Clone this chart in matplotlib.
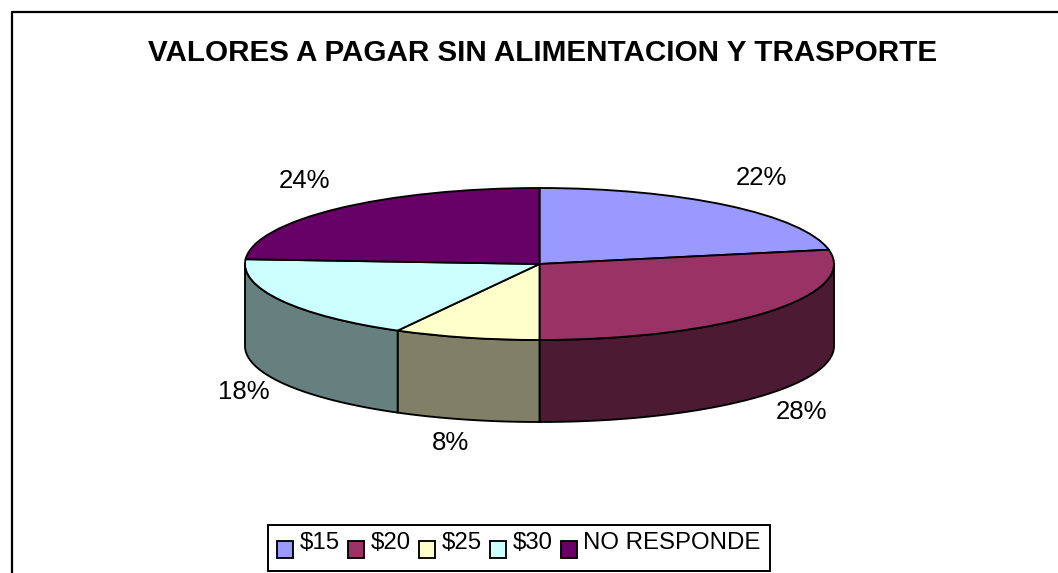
import numpy as np
import matplotlib
matplotlib.use("Agg")
import matplotlib.pyplot as plt
from matplotlib.lines import Line2D

categories = ["$15", "$20", "$25", "$30", "NO RESPONDE"]
values = [22, 28, 8, 18, 24]
top_colors = ["#9999FF", "#993366", "#FFFFCC", "#CCFFFF", "#660066"]
side_colors = ["#4D2680", "#4D1A33", "#808066", "#668080", "#330033"]
title = "VALORES A PAGAR SIN ALIMENTACION Y TRASPORTE"

W, H = 1058, 573
plt.rcParams["font.family"] = ["Liberation Sans", "DejaVu Sans"]
plt.rcParams["text.parse_math"] = False
fig = plt.figure(figsize=(W / 100, H / 100), dpi=100, facecolor="white")

cx, cy, rx, ry, depth = 539.5, 264.0, 294.5, 76.0, 82.0
lim_x, lim_top, lim_bot = 1.25, 1.25, 2.5
ax = fig.add_axes([
    (cx - lim_x * rx) / W,
    (H - cy - lim_bot * ry) / H,
    2 * lim_x * rx / W,
    (lim_top + lim_bot) * ry / H,
])
EDGE = 1.35
wedges, _ = ax.pie(values, colors=top_colors, startangle=90, counterclock=False,
                   wedgeprops=dict(edgecolor="black", linewidth=EDGE, joinstyle="round"))
for w in wedges:
    w.set_zorder(3)
ax.set_aspect("auto")
ax.set_xlim(-lim_x, lim_x)
ax.set_ylim(-lim_bot, lim_top)
ax.axis("off")

# Extruded side of the pie: the visible arc runs 90-270 deg clockwise from the top.
d = depth / ry
edges = np.cumsum([0] + values) / sum(values) * 360
for i in range(len(values)):
    a, b = max(edges[i], 90), min(edges[i + 1], 270)
    if b <= a:
        continue
    t = np.radians(np.linspace(a, b, 80))
    x, y = np.sin(t), np.cos(t)
    ax.fill(np.r_[x, x[::-1]], np.r_[y, y[::-1] - d], facecolor=side_colors[i],
            edgecolor="black", linewidth=EDGE, zorder=2, joinstyle="round")


def px(x, y):
    return x / W, 1 - y / H


label_xy = [(761.5, 178), (801.5, 412), (450.5, 443), (243.5, 392), (305, 181)]
for v, (lx, ly) in zip(values, label_xy):
    fig.text(*px(lx, ly), f"{v}%", ha="center", va="center", fontsize=18.5, color="black")

fig.text(*px(543, 53), title, ha="center", va="center", fontsize=21.3,
         fontweight="bold", color="black")

LEG_FS = 17.3
leg = fig.legend(wedges, categories, ncol=5, loc="lower left",
                 bbox_to_anchor=px(268, 571), bbox_transform=fig.transFigure,
                 fontsize=LEG_FS, frameon=True, fancybox=False, framealpha=1,
                 edgecolor="black", borderaxespad=0, borderpad=0.38,
                 handlelength=0.68, handleheight=1.4, handletextpad=0.26,
                 columnspacing=0.34, labelspacing=0)
leg.get_frame().set_linewidth(1.4)
box = 0.68 * LEG_FS
for h in leg.legend_handles:
    h.set_linewidth(1.35)
    full = h.get_height()
    h.set_height(box)
    h.set_y(h.get_y() + (full - box) / 2 - 1)
for t in leg.get_texts():
    t.set_position((0, 7))

fig.add_artist(Line2D([11.5 / W, 11.5 / W, 1], [0, 1 - 11.5 / H, 1 - 11.5 / H],
                      color="black", linewidth=1.6, transform=fig.transFigure))

fig.savefig("out.png", dpi=100, facecolor="white")
